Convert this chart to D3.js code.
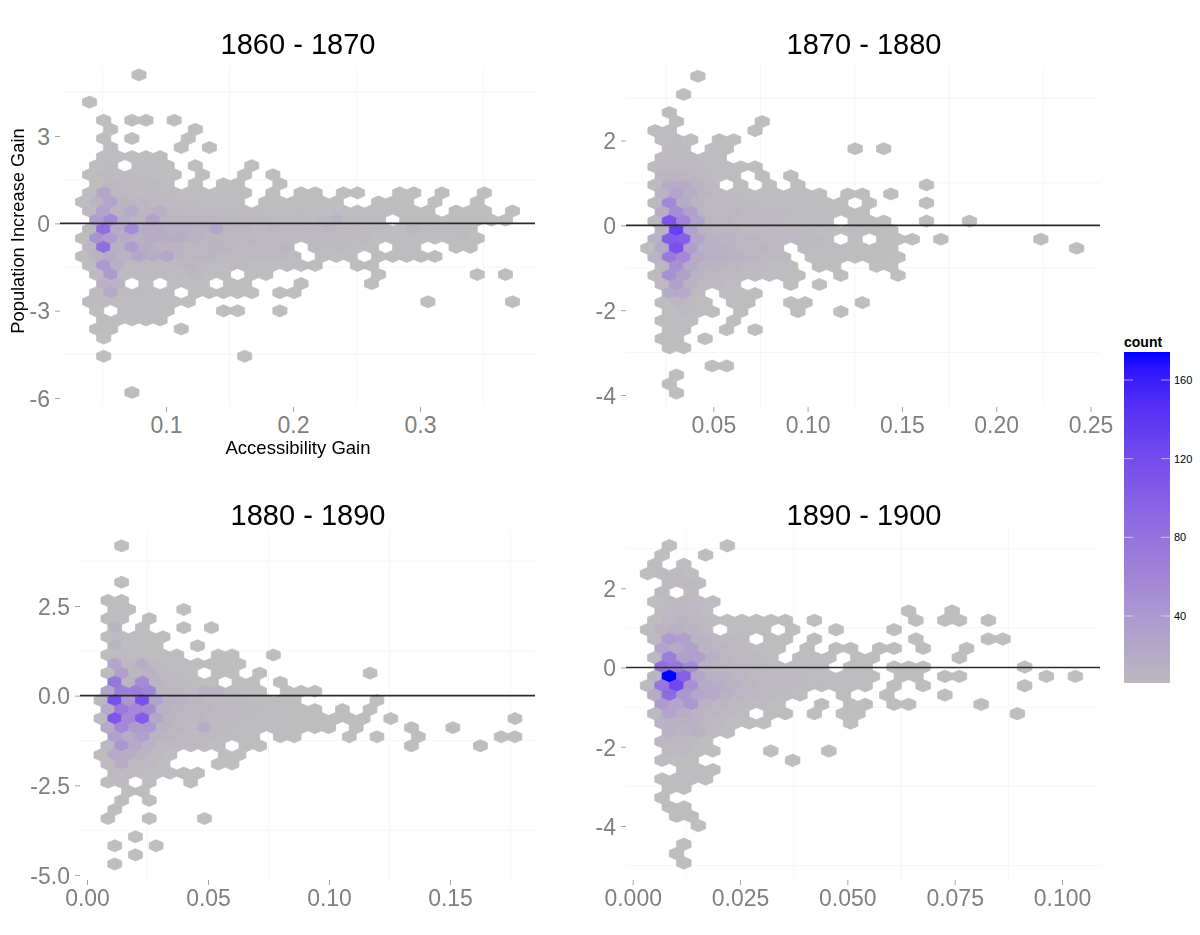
<!DOCTYPE html>
<html>
<head>
<meta charset="utf-8">
<script src="https://cdn.jsdelivr.net/npm/d3@7"></script>
<style>
html,body{margin:0;padding:0;background:#fff;}
svg{display:block;font-family:"Liberation Sans",Arial,sans-serif;}
</style>
</head>
<body>
<svg id="chart" width="1200" height="935"></svg>
<script>
// Hex bins: each row is [row index, first column index, count, count, ...]; 0 = empty cell.
const rows1860 = [
[-5,2,2],[-2,-1,1],
[0,0,1,0,1,1,0,1],
[1,0,1,0,0,0,0,0,1],
[2,0,1,0,1,0,0,0,1],
[3,0,2,0,0,0,0,1,0,1],
[4,0,3,3,3,2,2],
[5,-1,2,4,0,2,3,2,0,1,0,0,0,1],
[6,-1,2,5,4,4,4,3,2,0,1,0,0,1,0,1],
[7,-1,3,7,6,5,5,3,0,1,0,1,1,0,0,1],
[8,-1,3,25,7,5,4,4,4,3,3,3,2,2,0,1,0,2,2,0,1,1,0,0,1,1,0,1,0,0,1],
[9,-2,2,12,28,8,8,6,5,4,4,3,3,3,0,2,2,2,2,2,2,0,0,1,2,1,0,1,0,0,1],
[10,-1,5,30,10,22,8,16,7,6,6,5,4,4,4,3,3,4,3,3,3,3,3,3,3,2,2,0,2,2,2,0,1],
[11,-1,35,55,18,10,30,10,10,8,8,6,6,5,5,4,4,3,6,10,4,3,3,0,3,3,3,2,2,2,1,1],
[12,-1,8,85,22,55,20,18,16,14,12,25,9,8,6,8,5,5,5,8,4,4,3,3,3,8,3,3,3,2],
[13,-2,3,45,35,20,16,20,18,18,12,9,9,8,8,6,5,5,5,5,5,5,6,3,3,3,3,3,3,5,2],
[14,-1,8,85,16,35,18,12,12,8,8,10,8,6,6,5,10,0,4,4,6,3,3,0,3,3,0,0,2,2],
[15,-2,3,12,20,12,26,18,26,9,8,8,6,5,5,5,5,4,0,3,3,3,0,3,2,2,2,2],
[16,-1,4,40,16,6,6,5,5,8,5,4,4,4,3,3,3,2,2,0,0,2,2],
[17,-1,5,40,6,5,4,4,4,7,3,3,0,3,2,0,0,0,0,0,0,0,1,0,0,0,0,0,0,1,0,1],
[18,0,14,10,0,3,0,3,3,3,0,3,2,0,0,0,2,0,0,0,0,1],
[19,-1,4,22,4,4,3,3,0,3,2,2,2,1,0,1,1],
[20,-1,4,5,4,3,3,3,3,2,0,0,0,0,0,0,0,0,0,0,0,0,0,0,0,0,1,0,0,0,0,0,1],
[21,-1,3,0,3,3,3,2,0,0,0,1,1,0,0,1],
[22,0,3,3,2,2,2],
[23,-1,2,3,0,0,0,0,1],
[24,0,1],
[26,0,1,0,0,0,0,0,0,0,0,0,1],
[30,2,1]
];
const rows1870 = [
[0,2,1],[2,1,1],[4,0,2],
[5,1,2,0,0,0,0,0,1],
[6,-1,2,3,0,0,0,0,0,1],
[7,0,3,4,2,0,2,1],
[8,0,4,4,0,3,2,0,0,0,0,0,0,0,0,1,0,1],
[9,0,5,5,5,3,3],
[10,-1,4,6,6,5,4,3,3,2],
[11,0,8,8,7,5,3,3,0,2,0,1],
[12,-1,5,20,20,12,5,0,3,0,2,0,1,0,0,0,0,0,0,0,0,1],
[13,0,12,28,18,8,5,4,3,3,3,2,2,2,0,1,2,0,1],
[14,-1,5,58,22,10,6,5,5,4,3,3,3,3,2,2,0,1,0,0,0,1],
[15,0,18,52,32,8,6,8,6,5,5,4,3,3,3,2,2],
[16,-1,7,110,62,30,8,8,6,5,5,4,3,3,3,0,2,2,1,0,0,1,0,0,1],
[17,0,14,130,32,12,9,8,6,6,5,5,4,3,3,3,3,2,1],
[18,-1,14,105,100,26,12,11,9,8,6,5,5,5,4,0,3,0,2,1,1,0,1,0,0,0,0,0,0,1],
[19,-1,3,22,115,36,16,14,11,9,8,6,0,4,4,3,3,2,2,2,0,0,0,0,0,0,0,0,0,0,0,0,1],
[20,-1,12,72,58,22,16,14,12,9,6,5,0,3,3,3,2,2,2,1],
[21,0,8,48,22,12,10,8,6,5,3,3,0,2,2,0,0,1,1],
[22,-1,5,48,32,12,8,6,5,4,3,3,2,0,0,1,0,0,0,1],
[23,0,5,32,12,6,5,3,0,0,0,2,0,1],
[24,0,22,22,6,0,3,3,2],
[25,0,3,8,6,3,0,3,2,0,0,1,1,0,0,0,1],
[26,0,3,6,4,3,0,2,0,0,0,1,0,0,1],
[27,0,3,3,3,0,0,1],
[28,0,3,3,0,0,1,0,1],
[29,0,2,2,0,1],
[30,0,3,2],
[32,3,1,1],[33,1,1],[34,0,1],[35,1,1]
];
const rows1880 = [
[0,0,1],[4,0,1],[6,-1,2,2],
[7,0,3,2,0,0,0,1],
[8,-1,2,3,0,2],
[9,0,10,0,3,0,0,1,0,1],
[10,-1,3,4,3,3,2],
[11,0,10,3,3,2,0,0,1],
[12,-1,3,5,4,3,3,2,0,0,1,1,0,0,1],
[13,0,28,6,18,5,3,3,3,2,2,1],
[14,-1,3,32,8,12,5,4,3,0,2,2,0,1,0,0,0,0,0,0,0,1],
[15,0,78,12,55,10,5,4,3,3,0,2,2,0,1],
[16,-1,28,68,68,62,8,8,6,12,10,5,3,3,0,2,2,1],
[17,-1,7,115,42,115,30,16,12,8,6,5,4,3,3,3,2,0,0,0,0,0,1],
[18,-1,22,72,58,52,16,11,9,8,6,5,5,4,3,3,2,2,0,2,0,1],
[19,-1,5,110,58,105,26,12,9,8,6,5,4,4,3,3,3,2,2,2,2,2,0,1,0,0,0,0,0,0,0,0,1],
[20,-1,22,58,38,38,12,8,6,18,5,4,3,3,3,3,2,2,2,0,1,0,0,0,1,0,0,1],
[21,0,32,22,32,12,8,6,5,5,4,3,3,0,2,2,0,0,0,1,0,1,0,0,1,0,0,0,0,0,1,1],
[22,-1,7,42,22,12,6,5,5,4,3,0,2,1,0,0,0,0,0,0,0,0,0,0,1,0,0,0,0,1],
[23,-1,4,22,18,12,5,3,0,0,0,2,1],
[24,-1,4,18,6,5,3,0,0,0,1,1],
[25,0,5,5,4,3,3,2,2],
[26,-1,3,4,0,3,0,0,1],
[27,1,2,2],[28,0,2,0,1],[29,0,2],
[30,-1,2,0,0,1,0,0,0,1],
[32,1,1],[33,0,1,0,0,1],[34,1,1],[35,0,1]
];
const rows1890 = [
[0,0,1,0,0,0,1],
[1,0,1,0,0,1],
[2,-1,2,0,3],
[3,-1,2,4,5,3],
[4,0,4,5,4],
[5,0,5,0,4],
[6,-1,3,5,7,5,3],
[7,0,5,7,5,3,0,0,0,0,0,0,0,0,0,0,0,0,0,1,0,0,1],
[8,-1,3,7,10,8,4,2,2,2,2,2,0,1,0,0,0,0,0,0,1,0,1,1,0,1],
[9,-1,4,10,16,10,6,0,3,3,2,0,2,0,0,1,0,0,0,1],
[10,-1,5,38,32,12,8,6,5,0,3,2,0,2,0,0,0,0,0,0,1,0,0,0,0,1,1],
[11,0,28,22,32,10,8,6,4,3,3,0,2,0,2,2,0,2,2,0,2,0,0,1],
[12,-1,7,68,32,32,16,8,6,5,3,0,3,3,3,0,2,2,0,0,0,0,0,1],
[13,0,85,75,52,12,8,6,5,5,4,3,3,3,0,2,2,0,2,2,2,0,0,0,0,0,0,1],
[14,-1,10,174,100,26,14,12,9,6,5,5,4,3,3,3,3,2,0,2,2,0,2,2,0,0,0,0,0,1,0,1],
[15,-1,5,78,125,48,22,18,12,8,6,5,5,4,4,3,3,2,0,1,0,1,0,0,0,0,0,0,1],
[16,-1,22,88,42,26,22,14,9,7,5,4,3,0,0,2,0,0,1,0,0,0,1],
[17,0,38,28,42,12,9,6,5,4,3,0,0,2,0,2,2,0,1,1,0,0,0,0,1],
[18,-1,5,28,18,12,8,5,4,0,3,2,0,1,0,1,1,0,0,0,0,0,0,0,0,0,0,1],
[19,0,14,14,14,8,5,3,2,2,0,0,0,0,0,1],
[20,0,14,10,14,6,3],
[21,0,7,7,5,3],
[22,0,5,5,3,2,0,0,0,1,0,0,0,1],
[23,0,3,3,2,0,0,0,0,0,0,1],
[24,1,3,3,2],
[25,0,2,3,3,2],
[26,0,2,2],[27,0,2],[28,0,2,2],[29,1,2,2],[30,2,1],
[32,1,1],[33,1,1],[34,1,1]
];

const panelTitles = ["1860 - 1870","1870 - 1880","1880 - 1890","1890 - 1900"];
const xTicks1860 = [0.1,0.2,0.3], xLabels1860 = ["0.1","0.2","0.3"];
const yTicks1860 = [3,0,-3,-6], yLabels1860 = ["3","0","-3","-6"];
const xMinor1860 = [0.05,0.15,0.25,0.35], yMinor1860 = [4.5,1.5,-1.5,-4.5];
const xTicks1870 = [0.05,0.10,0.15,0.20,0.25], xLabels1870 = ["0.05","0.10","0.15","0.20","0.25"];
const yTicks1870 = [2,0,-2,-4], yLabels1870 = ["2","0","-2","-4"];
const xMinor1870 = [0.025,0.075,0.125,0.175,0.225], yMinor1870 = [3,1,-1,-3];
const xTicks1880 = [0,0.05,0.10,0.15], xLabels1880 = ["0.00","0.05","0.10","0.15"];
const yTicks1880 = [2.5,0,-2.5,-5], yLabels1880 = ["2.5","0.0","-2.5","-5.0"];
const xMinor1880 = [0.025,0.075,0.125,0.175], yMinor1880 = [3.75,1.25,-1.25,-3.75];
const xTicks1890 = [0,0.025,0.05,0.075,0.10], xLabels1890 = ["0.000","0.025","0.050","0.075","0.100"];
const yTicks1890 = [2,0,-2,-4], yLabels1890 = ["2","0","-2","-4"];
const xMinor1890 = [0.0125,0.0375,0.0625,0.0875], yMinor1890 = [3,1,-1,-3,-5];
const legendTicks = [40,80,120,160];
const countDomain = [1,174];

const svg = d3.select("#chart");
const fill = d3.scaleLinear().domain(countDomain).range(["#bebebe","#0000ff"]).interpolate(d3.interpolateLab);

const defs = svg.append("defs");
defs.append("filter").attr("id","soft").attr("x","-5%").attr("y","-5%").attr("width","110%").attr("height","110%")
  .append("feGaussianBlur").attr("stdDeviation",0.4);

function drawPanel(cfg){
  const x = d3.scaleLinear().domain(cfg.xAnchor).range(cfg.xPix);
  const y = d3.scaleLinear().domain(cfg.yAnchor).range(cfg.yPix);
  const g = svg.append("g");
  // minor grid
  g.selectAll("line.gx").data(cfg.xMinor).join("line")
    .attr("x1",d=>x(d)).attr("x2",d=>x(d)).attr("y1",cfg.top).attr("y2",cfg.bottom)
    .attr("stroke","#f6f6f6").attr("stroke-width",1);
  g.selectAll("line.gy").data(cfg.yMinor).join("line")
    .attr("x1",cfg.left).attr("x2",cfg.right).attr("y1",d=>y(d)).attr("y2",d=>y(d))
    .attr("stroke","#f6f6f6").attr("stroke-width",1);
  // bins
  const bins = [];
  cfg.rows.forEach(([k,start,...counts])=>{
    counts.forEach((c,i)=>{
      if(c>0) bins.push({
        x: cfg.x0 + (start+i+(k%2!==0?cfg.oddShift:0))*cfg.dx,
        y: cfg.y0 + k*cfg.dy,
        count:c
      });
    });
  });
  const w = Math.abs(x(cfg.dx)-x(0));
  const h = Math.abs(y(cfg.dy)-y(0))*4/3;
  const hexPath = `M0,${-h/2}L${w/2},${-h/4}L${w/2},${h/4}L0,${h/2}L${-w/2},${h/4}L${-w/2},${-h/4}Z`;
  g.append("g").attr("filter","url(#soft)")
    .selectAll("path").data(bins).join("path")
    .attr("d",hexPath)
    .attr("transform",d=>`translate(${x(d.x)},${y(d.y)})`)
    .attr("fill",d=>fill(d.count))
    .attr("stroke",d=>fill(d.count)).attr("stroke-width",0.8).attr("stroke-linejoin","round");
  // zero reference line
  g.append("line").attr("x1",cfg.left).attr("x2",cfg.right).attr("y1",y(0)).attr("y2",y(0))
    .attr("stroke","#2a2a2a").attr("stroke-width",1.6);
  // axes
  const ax = g.append("g").attr("transform",`translate(0,${cfg.bottom})`)
    .call(d3.axisBottom(x).tickValues(cfg.xTicks).tickFormat((d,i)=>cfg.xLabels[i]).tickSize(5).tickPadding(5));
  const ay = g.append("g").attr("transform",`translate(${cfg.left},0)`)
    .call(d3.axisLeft(y).tickValues(cfg.yTicks).tickFormat((d,i)=>cfg.yLabels[i]).tickSize(5).tickPadding(5));
  [ax,ay].forEach(a=>{
    a.select(".domain").remove();
    a.selectAll("line").attr("stroke","#a5a5a5");
    a.selectAll("text").attr("fill","#808080").style("font-size","23px").style("font-family","'Liberation Sans',Arial,sans-serif");
  });
  ay.selectAll("text").attr("dy","0.36em");
  // title
  g.append("text").attr("x",cfg.titleX).attr("y",cfg.titleY).attr("text-anchor","middle")
    .attr("fill","#000").style("font-size","29px").text(cfg.title);
}

drawPanel({title:panelTitles[0],titleX:298,titleY:54,rows:rows1860,left:60,right:535,top:65,bottom:407,
  xAnchor:[0.1,0.3],xPix:[166,420],yAnchor:[3,-6],yPix:[136,398],
  x0:0.05094,dx:0.01110,y0:3.5395,dy:-0.3117,oddShift:0.5,
  xTicks:xTicks1860,xLabels:xLabels1860,yTicks:yTicks1860,yLabels:yLabels1860,xMinor:xMinor1860,yMinor:yMinor1860});
drawPanel({title:panelTitles[1],titleX:864,titleY:54,rows:rows1870,left:626,right:1100,top:65,bottom:407,
  xAnchor:[0.05,0.25],xPix:[713.3,1090.5],yAnchor:[2,-4],yPix:[140.5,395],
  x0:0.02669,dx:0.007577,y0:3.5136,dy:-0.2134,oddShift:-0.5,
  xTicks:xTicks1870,xLabels:xLabels1870,yTicks:yTicks1870,yLabels:yLabels1870,xMinor:xMinor1870,yMinor:yMinor1870});
drawPanel({title:panelTitles[2],titleX:308,titleY:525,rows:rows1880,left:80,right:535,top:530,bottom:880,
  xAnchor:[0,0.15],xPix:[87,450],yAnchor:[2.5,-5],yPix:[606,875],
  x0:0.014326,dx:0.005702,y0:4.176,dy:-0.2534,oddShift:-0.5,
  xTicks:xTicks1880,xLabels:xLabels1880,yTicks:yTicks1880,yLabels:yLabels1880,xMinor:xMinor1880,yMinor:yMinor1880});
drawPanel({title:panelTitles[3],titleX:864,titleY:525,rows:rows1890,left:626,right:1100,top:530,bottom:880,
  xAnchor:[0,0.10],xPix:[632.7,1062],yAnchor:[2,-4],yPix:[588.3,826],
  x0:0.008535,dx:0.003378,y0:3.0738,dy:-0.2355,oddShift:-0.5,
  xTicks:xTicks1890,xLabels:xLabels1890,yTicks:yTicks1890,yLabels:yLabels1890,xMinor:xMinor1890,yMinor:yMinor1890});

// axis titles of the first panel
svg.append("text").attr("x",298).attr("y",454).attr("text-anchor","middle")
  .style("font-size","18.5px").attr("fill","#000").text("Accessibility Gain");
svg.append("text").attr("transform","translate(24,231) rotate(-90)").attr("text-anchor","middle")
  .style("font-size","18.3px").attr("fill","#000").text("Population Increase Gain");

// legend
const legY = d3.scaleLinear().domain([40,160]).range([616,380]);
const legTop = 352, legBottom = 683, legLeft = 1124, legRight = 1170;
const grad = defs.append("linearGradient").attr("id","legendGrad").attr("x1",0).attr("x2",0).attr("y1",1).attr("y2",0);
d3.range(0,21).forEach(i=>{
  const v = legY.invert(legBottom + (legTop-legBottom)*i/20);
  grad.append("stop").attr("offset",`${i*5}%`).attr("stop-color",fill(v));
});
svg.append("rect").attr("x",legLeft).attr("y",legTop).attr("width",legRight-legLeft).attr("height",legBottom-legTop)
  .attr("fill","url(#legendGrad)");
legendTicks.forEach(t=>{
  [[legLeft,legLeft+9],[legRight-9,legRight]].forEach(([a,b])=>{
    svg.append("line").attr("x1",a).attr("x2",b).attr("y1",legY(t)).attr("y2",legY(t))
      .attr("stroke","#fff").attr("stroke-opacity",0.55).attr("stroke-width",1);
  });
  svg.append("text").attr("x",legRight+4).attr("y",legY(t)+4).style("font-size","11px").attr("fill","#000").text(t);
});
svg.append("text").attr("x",legLeft).attr("y",347).style("font-size","14px").style("font-weight","bold").attr("fill","#000").text("count");
</script>
</body>
</html>
